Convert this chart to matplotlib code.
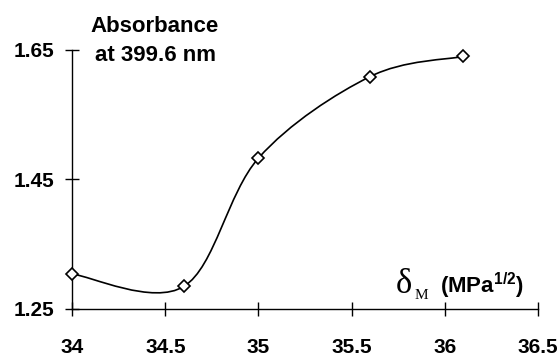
import matplotlib
matplotlib.use("Agg")
import matplotlib.pyplot as plt
from matplotlib.path import Path
from matplotlib.patches import PathPatch
import numpy as np

plt.rcParams['font.family'] = ['Liberation Sans', 'DejaVu Sans']
plt.rcParams['font.weight'] = 'bold'
plt.rcParams['mathtext.fontset'] = 'custom'
plt.rcParams['mathtext.rm'] = 'Liberation Serif'
plt.rcParams['mathtext.bf'] = 'Liberation Sans:bold'

# data
delta_m = [34.0, 34.6, 35.0, 35.6, 36.1]
absorbance = [1.304, 1.285, 1.483, 1.609, 1.640]

x_ticks = [34, 34.5, 35, 35.5, 36, 36.5]
x_labels = ['34', '34.5', '35', '35.5', '36', '36.5']
y_ticks = [1.25, 1.45, 1.65]
y_labels = ['1.25', '1.45', '1.65']


def smooth_path(xs, ys):
    # spreadsheet style smoothed line: cubic bezier through the points
    pts = np.column_stack([xs, ys])
    n = len(pts)
    verts = [pts[0]]
    codes = [Path.MOVETO]
    for i in range(n - 1):
        p_prev = pts[i - 1] if i > 0 else pts[i]
        p_next2 = pts[i + 2] if i + 2 < n else pts[i + 1]
        c1 = pts[i] + (pts[i + 1] - p_prev) / 6.0
        c2 = pts[i + 1] - (p_next2 - pts[i]) / 6.0
        verts += [c1, c2, pts[i + 1]]
        codes += [Path.CURVE4] * 3
    return Path(verts, codes)


fig = plt.figure(figsize=(5.6, 3.58), dpi=100)
ax = fig.add_axes([0.1291, 0.1369, 0.8311, 0.7235])

ax.add_patch(PathPatch(smooth_path(delta_m, absorbance), facecolor='none',
                       edgecolor='black', lw=1.2, clip_on=False))
ax.plot(delta_m, absorbance, ls='none', marker='D', ms=6, mfc='white',
        mec='black', mew=1.2, clip_on=False, zorder=3)

ax.set_xlim(34, 36.5)
ax.set_ylim(1.25, 1.65)
ax.set_xticks(x_ticks)
ax.set_xticklabels(x_labels)
ax.set_yticks(y_ticks)
ax.set_yticklabels(y_labels)
ax.spines['top'].set_visible(False)
ax.spines['right'].set_visible(False)
for s in ['left', 'bottom']:
    ax.spines[s].set_linewidth(1.0)
ax.tick_params(axis='both', direction='inout', length=9.5, width=1.0,
               labelsize=15)
ax.tick_params(axis='x', pad=16)
ax.tick_params(axis='y', pad=8)
for lab in ax.get_xticklabels() + ax.get_yticklabels():
    lab.set_fontweight('bold')

ax.text(0.1777, 1.0707, 'Absorbance', transform=ax.transAxes, ha='center',
        va='baseline', fontsize=16, fontweight='bold')
ax.text(0.1777, 0.9587, 'at 399.6 nm', transform=ax.transAxes, ha='center',
        va='baseline', fontsize=16, fontweight='bold')

ax.text(35.740, 1.2747, 'δ', family='Liberation Serif', fontweight='normal',
        fontsize=25, ha='left', va='baseline')
ax.text(35.838, 1.2655, 'M', family='Liberation Serif', fontweight='normal',
        fontsize=11, ha='left', va='baseline')
ax.text(35.974, 1.2747, r'(MPa$^{\mathbf{1/2}}$)', fontsize=16,
        fontweight='bold', ha='left', va='baseline')

fig.savefig('out.png', dpi=100)
